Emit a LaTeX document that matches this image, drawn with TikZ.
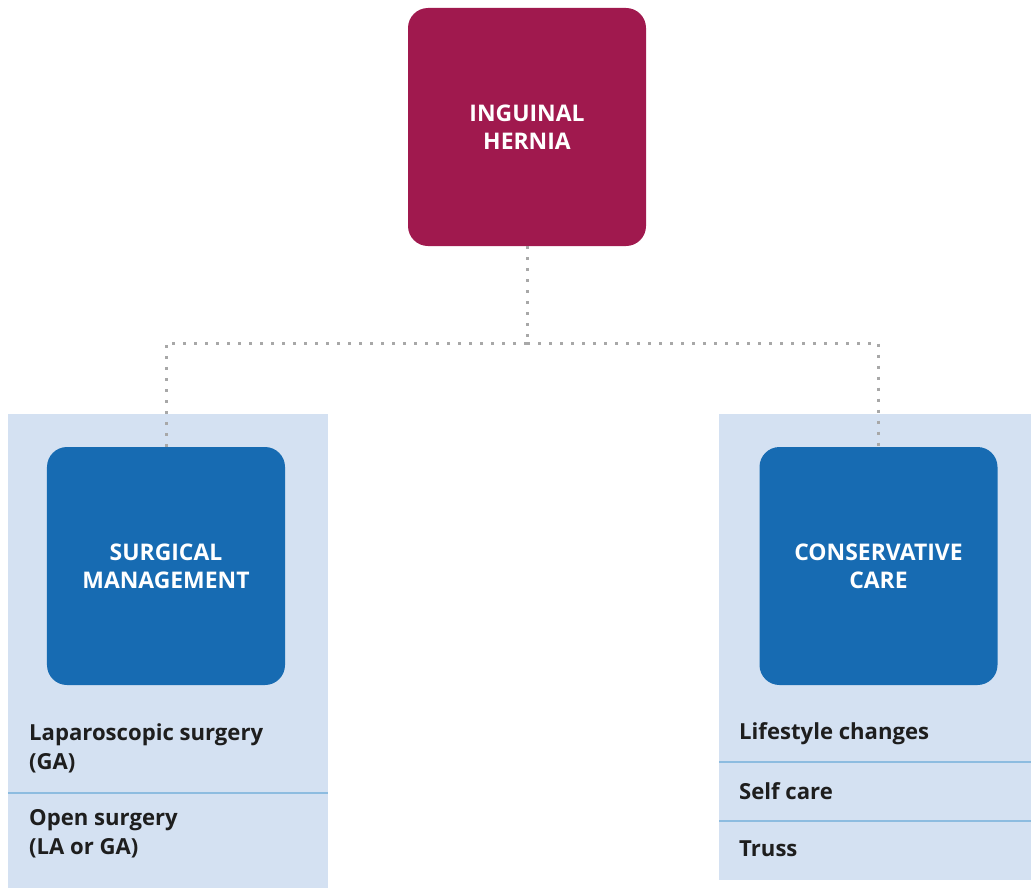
\documentclass[tikz,border=0pt]{standalone}
\usepackage{fontspec}
\setmainfont{Open Sans}
\definecolor{hernia}{HTML}{A0194E}
\definecolor{mgmt}{HTML}{176BB2}
\definecolor{panelbg}{HTML}{D4E1F2}
\definecolor{sepline}{HTML}{8DBCE0}
\definecolor{dotgray}{HTML}{A8A8A8}
\definecolor{itemtext}{HTML}{1E1E1E}
\tikzset{
  bigbox/.style={rounded corners=20bp, minimum width=238bp, minimum height=238bp,
    inner sep=0pt, align=center, text=white,
    font=\fontsize{23}{28}\selectfont\bfseries},
  panelbox/.style={fill=panelbg, inner sep=0pt, anchor=north west},
  itemlabel/.style={anchor=west, align=left, inner sep=0pt, text=itemtext,
    font=\fontsize{22.2}{29}\selectfont\bfseries},
  dotline/.style={draw=dotgray, line width=3bp, dash pattern=on 3bp off 8bp},
  sep/.style={draw=sepline, line width=1.2bp}
}
\begin{document}
\begin{tikzpicture}[x=1bp,y=-1bp]
\useasboundingbox (0,0) rectangle (1031,888);
% panels
\node[panelbox, minimum width=320bp, minimum height=474bp] (lp) at (8,414) {};
\node[panelbox, minimum width=312bp, minimum height=466bp] (rp) at (719,414) {};
% boxes
\node[bigbox, fill=hernia] (ih) at (527,127) {INGUINAL\\HERNIA};
\node[bigbox, fill=mgmt] (sm) at (166,566) {SURGICAL\\MANAGEMENT};
\node[bigbox, fill=mgmt] (cc) at (878.5,566) {CONSERVATIVE\\CARE};
% connectors
\coordinate (j) at (527,343);
\draw[dotline] (ih.south) -- (j);
\draw[dotline] (j) -| (sm.north);
\draw[dotline] (j) -| (cc.north);
% separators
\coordinate (ls1) at (8,793);
\coordinate (ls2) at (328,793);
\draw[sep] (ls1) -- (ls2);
\coordinate (rs1) at (719,762);
\coordinate (rs2) at (1031,762);
\coordinate (rs3) at (719,821);
\coordinate (rs4) at (1031,821);
\draw[sep] (rs1) -- (rs2);
\draw[sep] (rs3) -- (rs4);
% items
\node[itemlabel] (lap) at (29,748) {Laparoscopic surgery\\(GA)};
\node[itemlabel] (open) at (29,834) {Open surgery\\(LA or GA)};
\node[itemlabel] (life) at (739,734) {Lifestyle changes};
\node[itemlabel] (self) at (739,791) {Self care};
\node[itemlabel] (truss) at (739,849) {Truss};
\end{tikzpicture}
\end{document}
